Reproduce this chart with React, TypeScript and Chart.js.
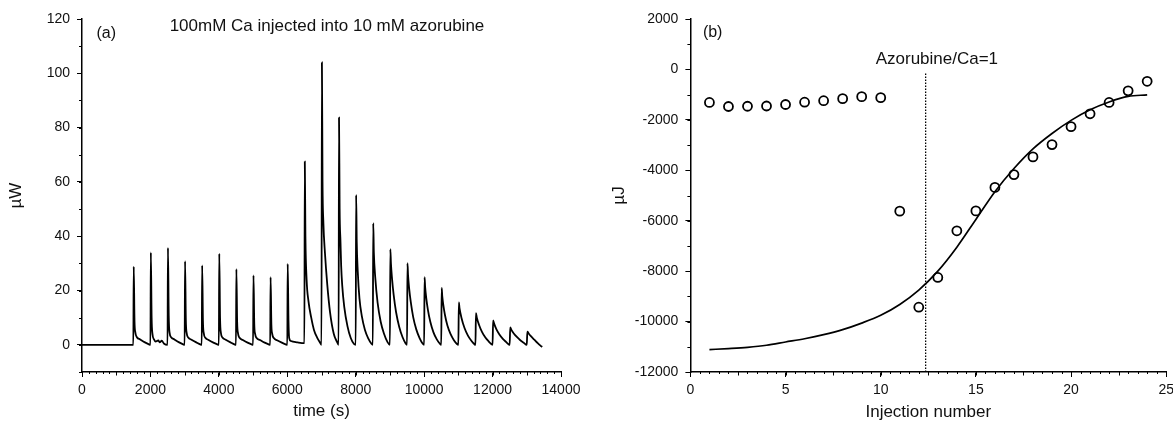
import React, { useEffect, useRef } from 'react';
import { Chart, registerables } from 'chart.js';

Chart.register(...registerables);

const FONT = '"Liberation Sans", Arial, Helvetica, sans-serif';
const INK = '#000';
const TEXT = '#111';

// ---------- Panel (a): raw ITC thermogram, [time (s), power (µW)] ----------
const thermogram: [number, number][] = [
  [0, 0], [1500, 0],
  [1512, 28.8], [1535, 8.6], [1560, 4.5], [1605, 2.8], [1700, 2], [1840, 0.9], [1970, 0.1], [2000, 0],
  [2012, 34], [2035, 10], [2060, 4], [2105, 2], [2150, 1.2], [2230, 1.6], [2270, 0.9], [2330, 1.5], [2400, 0.4], [2500, 0],
  [2512, 35.7], [2535, 10.7], [2560, 4.5], [2605, 2.8], [2700, 2], [2840, 0.9], [2970, 0.1], [3000, 0],
  [3012, 30.8], [3035, 9.2], [3060, 4.3], [3105, 2.7], [3200, 1.9], [3340, 0.9], [3470, 0.1], [3500, 0],
  [3512, 29.3], [3535, 8.8], [3560, 4.2], [3605, 2.6], [3700, 1.8], [3840, 0.8], [3970, 0.1], [4000, 0],
  [4012, 33.6], [4035, 10], [4060, 4.4], [4105, 2.7], [4200, 1.9], [4340, 0.9], [4470, 0.1], [4500, 0],
  [4512, 27.9], [4535, 8.4], [4560, 4.2], [4605, 2.6], [4700, 1.8], [4840, 0.8], [4970, 0.1], [5000, 0],
  [5012, 25.6], [5035, 7.7], [5060, 4], [5105, 2.5], [5200, 1.8], [5340, 0.8], [5470, 0.1], [5500, 0],
  [5512, 24.9], [5535, 7.5], [5560, 4], [5605, 2.5], [5700, 1.7], [5840, 0.8], [5970, 0.1], [6000, 0],
  [6012, 29.8], [6035, 9], [6055, 2.6], [6105, 1.4], [6300, 0.9], [6500, 0.6],
  [6512, 67.5], [6530, 40], [6565, 24], [6620, 16], [6700, 10], [6780, 5.5], [6880, 2.5], [6960, 0.8], [7000, 0],
  [7012, 104], [7030, 60], [7055, 45], [7100, 34], [7170, 22], [7250, 12], [7360, 4], [7450, 1.2], [7500, 0],
  [7512, 83.7], [7530, 50], [7555, 38], [7575, 29], [7605, 22], [7665, 14], [7760, 6.8], [7855, 2.5], [7950, 0.3], [8000, 0],
  [8012, 55.2], [8030, 38], [8060, 27], [8110, 17], [8180, 10.5], [8270, 5.5], [8370, 2.3], [8460, 0.4], [8500, 0],
  [8512, 44.8], [8530, 34], [8570, 25], [8640, 15.5], [8730, 8.5], [8830, 4], [8930, 1], [9000, 0],
  [9012, 35.2], [9030, 29.9], [9060, 24.6], [9110, 18.3], [9180, 12], [9270, 6.7], [9370, 2.8], [9460, 0.5], [9500, 0],
  [9512, 30.1], [9530, 25.6], [9560, 21], [9610, 15.7], [9680, 10.2], [9770, 5.7], [9870, 2.4], [9960, 0.4], [10000, 0],
  [10012, 24.9], [10030, 21.2], [10060, 17.4], [10110, 12.9], [10180, 8.5], [10270, 4.7], [10370, 2], [10460, 0.4], [10500, 0],
  [10512, 21], [10530, 17.9], [10560, 14.7], [10610, 10.9], [10680, 7.1], [10770, 4], [10870, 1.7], [10960, 0.3], [11000, 0],
  [11014, 15.6], [11035, 13.4], [11090, 10], [11180, 6.2], [11280, 3.4], [11380, 1.5], [11465, 0.3], [11500, 0],
  [11514, 11.7], [11540, 10], [11600, 7.5], [11690, 4.8], [11790, 2.7], [11890, 1.2], [11970, 0.2], [12000, 0],
  [12016, 9], [12045, 7.8], [12110, 5.8], [12200, 3.8], [12300, 2.2], [12400, 1], [12470, 0.2], [12500, 0],
  [12516, 6.4], [12550, 5.5], [12620, 4.2], [12710, 2.9], [12810, 1.7], [12910, 0.8], [13000, 0],
  [13016, 4.9], [13050, 4.3], [13120, 3.2], [13220, 1.9], [13320, 0.6], [13400, -0.3], [13450, -0.8],
];

const leftXTicks = [0, 2000, 4000, 6000, 8000, 10000, 12000, 14000];
const leftYTicks = [0, 20, 40, 60, 80, 100, 120];

// ---------- Panel (b): integrated heats ----------
const injectionNumber = [1, 2, 3, 4, 5, 6, 7, 8, 9, 10, 11, 12, 13, 14, 15, 16, 17, 18, 19, 20, 21, 22, 23, 24];
const injectionHeat = [
  -1310, -1470, -1460, -1450, -1390, -1300, -1240, -1160, -1080, -1120,
  -5620, -9430, -8250, -6400, -5610, -4680, -4170, -3470, -2980, -2270,
  -1760, -1310, -850, -470,
];
const fitInjection = [1, 2, 3, 4, 5, 6, 7, 8, 9, 10, 11, 12, 13, 14, 15, 16, 17, 18, 19, 20, 21, 22, 23, 24];
const fitHeat = [
  -11110, -11070, -11020, -10940, -10810, -10680, -10520, -10320, -10060, -9750,
  -9320, -8750, -8000, -7050, -5950, -4850, -3930, -3150, -2540, -2020,
  -1600, -1290, -1070, -1010,
];
const equivalenceInjection = 12.36; // Azorubine/Ca = 1
const equivalenceLineHeat = [-12000, -100];

const rightXTicks = [0, 5, 10, 15, 20, 25];
const rightYTicks = [-12000, -10000, -8000, -6000, -4000, -2000, 0, 2000];

type Minor = { step: number; len: number };
type Txt = { text: string; x: number; y: number; size: number };
type Overlay = { minorX: Minor[]; minorY: Minor[]; texts: Txt[] };

function makeOverlay(cfg: Overlay) {
  return {
    id: 'overlay',
    afterDraw(chart: any) {
      const ctx = chart.ctx;
      const xs = chart.scales.x;
      const ys = chart.scales.y;
      const area = chart.chartArea;
      ctx.save();
      ctx.strokeStyle = INK;
      ctx.lineWidth = 1;
      cfg.minorX.forEach((m) => {
        for (let v = xs.min; v <= xs.max + 1e-9; v += m.step) {
          const px = Math.round(xs.getPixelForValue(v)) + 0.5;
          ctx.beginPath();
          ctx.moveTo(px, area.bottom);
          ctx.lineTo(px, area.bottom + m.len);
          ctx.stroke();
        }
      });
      cfg.minorY.forEach((m) => {
        for (let v = ys.min; v <= ys.max + 1e-9; v += m.step) {
          const py = Math.round(ys.getPixelForValue(v)) + 0.5;
          ctx.beginPath();
          ctx.moveTo(area.left, py);
          ctx.lineTo(area.left - m.len, py);
          ctx.stroke();
        }
      });
      ctx.fillStyle = TEXT;
      ctx.textBaseline = 'middle';
      ctx.textAlign = 'center';
      cfg.texts.forEach((t) => {
        ctx.font = `${t.size}px ${FONT}`;
        ctx.fillText(t.text, xs.getPixelForValue(t.x), ys.getPixelForValue(t.y));
      });
      ctx.restore();
    },
  };
}

function scaleCfg(
  min: number,
  max: number,
  tickValues: number[],
  title: string,
  titlePad: number,
  size: number,
  horizontal: boolean,
) {
  return {
    type: 'linear',
    min,
    max,
    afterBuildTicks: (s: any) => {
      s.ticks = tickValues.map((v) => ({ value: v }));
    },
    afterFit: (s: any) => {
      if (horizontal) s.height = size;
      else s.width = size;
    },
    grid: { display: true, drawOnChartArea: false, drawTicks: true, tickLength: 5, color: INK, lineWidth: 1 },
    border: { display: true, color: INK, width: 1.5 },
    ticks: {
      color: TEXT,
      font: { family: FONT, size: 14 },
      padding: horizontal ? 5 : 7,
      maxRotation: 0,
      autoSkip: false,
      callback: (v: any) => String(v),
    },
    title: {
      display: true,
      text: title,
      color: TEXT,
      font: { family: FONT, size: 17, lineHeight: 1 },
      padding: horizontal ? { top: 0, bottom: titlePad } : { top: titlePad, bottom: 0 },
    },
  };
}

function buildLeft(): any {
  return {
    type: 'line',
    data: {
      datasets: [
        {
          data: thermogram.map(([x, y]) => ({ x, y })),
          borderColor: INK,
          borderWidth: 1.8,
          pointRadius: 0,
          cubicInterpolationMode: 'monotone',
          fill: false,
        },
      ],
    },
    options: {
      animation: false,
      responsive: false,
      layout: { padding: { left: 0, right: 29, top: 19, bottom: 0 } },
      plugins: { legend: { display: false }, tooltip: { enabled: false } },
      scales: {
        x: scaleCfg(0, 14000, leftXTicks, 'time (s)', 5, 53, true),
        y: scaleCfg(-10, 120, leftYTicks, 'µW', 8, 82, false),
      },
    },
    plugins: [
      makeOverlay({
        minorX: [{ step: 200, len: 2 }, { step: 1000, len: 3.5 }],
        minorY: [{ step: 10, len: 3 }],
        texts: [
          { text: '(a)', x: 710, y: 114.8, size: 16 },
          { text: '100mM Ca injected into 10 mM azorubine', x: 7160, y: 117.4, size: 17 },
        ],
      }),
    ],
  };
}

function buildRight(): any {
  return {
    type: 'line',
    data: {
      datasets: [
        {
          data: injectionNumber.map((n, i) => ({ x: n, y: injectionHeat[i] })),
          showLine: false,
          pointRadius: 4.5,
          pointBorderWidth: 1.8,
          pointBorderColor: INK,
          pointBackgroundColor: 'rgba(0,0,0,0)',
        },
        {
          data: fitInjection.map((n, i) => ({ x: n, y: fitHeat[i] })),
          borderColor: INK,
          borderWidth: 1.7,
          pointRadius: 0,
          cubicInterpolationMode: 'monotone',
          fill: false,
        },
        {
          data: equivalenceLineHeat.map((h) => ({ x: equivalenceInjection, y: h })),
          borderColor: INK,
          borderWidth: 1.3,
          borderDash: [1.5, 1.5],
          pointRadius: 0,
          fill: false,
        },
      ],
    },
    options: {
      animation: false,
      responsive: false,
      layout: { padding: { left: 0, right: 43.8, top: 19, bottom: 0 } },
      plugins: { legend: { display: false }, tooltip: { enabled: false } },
      scales: {
        x: scaleCfg(0, 25, rightXTicks, 'Injection number', 4, 53, true),
        y: scaleCfg(-12000, 2000, rightYTicks, 'µJ', 21, 100.4, false),
      },
    },
    plugins: [
      makeOverlay({
        minorX: [{ step: 0.5, len: 2 }, { step: 2.5, len: 3.5 }],
        minorY: [{ step: 1000, len: 3 }],
        texts: [
          { text: '(b)', x: 1.17, y: 1444, size: 16 },
          { text: 'Azorubine/Ca=1', x: 12.95, y: 412, size: 17 },
        ],
      }),
    ],
  };
}

function ChartCanvas({ build, left, width }: { build: () => any; left: number; width: number }) {
  const ref = useRef<HTMLCanvasElement>(null);
  useEffect(() => {
    if (!ref.current) return;
    const chart = new Chart(ref.current, build());
    return () => chart.destroy();
  }, [build]);
  return (
    <canvas
      ref={ref}
      width={width}
      height={425}
      style={{ position: 'absolute', left, top: 0, width, height: 425, display: 'block' }}
    />
  );
}

export default function App() {
  return (
    <div
      style={{
        position: 'absolute',
        left: 0,
        top: 0,
        width: 1173,
        height: 425,
        overflow: 'hidden',
        background: '#fff',
      }}
    >
      <ChartCanvas build={buildLeft} left={0} width={590} />
      <ChartCanvas build={buildRight} left={590} width={620} />
    </div>
  );
}
